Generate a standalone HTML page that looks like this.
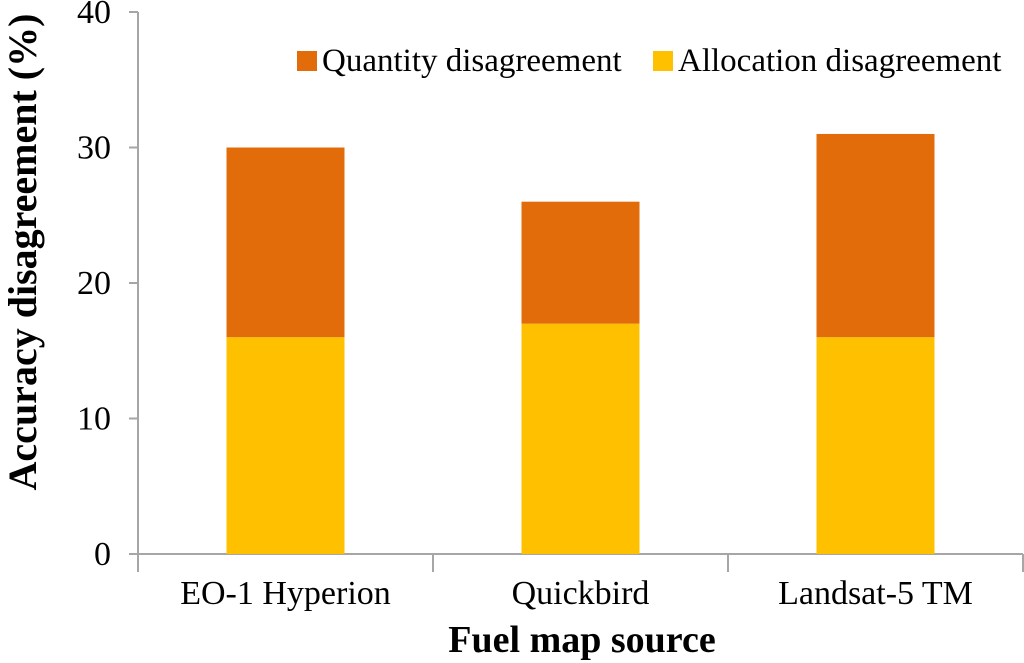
<!DOCTYPE html>
<html><head><meta charset="utf-8"><style>
html,body{margin:0;padding:0;background:#fff;width:1024px;height:663px;overflow:hidden}
svg{display:block;font-family:"Liberation Serif",serif}
</style></head><body>
<svg id="chart" width="1024" height="663">
<g id="axes"></g><g id="bars"></g>
<text transform="translate(36,252) rotate(-90)" text-anchor="middle" font-size="40" font-weight="bold" fill="#000">Accuracy disagreement (%)</text>
<text x="582" y="652" text-anchor="middle" font-size="38" font-weight="bold" fill="#000">Fuel map source</text>
<g>
<rect x="297" y="51" width="20" height="20" fill="#E36C0A"/>
<text x="322" y="71" font-size="33" fill="#000">Quantity disagreement</text>
<rect x="653" y="51" width="20" height="20" fill="#FFC000"/>
<text x="678" y="71" font-size="33" fill="#000">Allocation disagreement</text>
</g>
</svg>
<script>
const categories = ["EO-1 Hyperion", "Quickbird", "Landsat-5 TM"];
const allocation = [16, 17, 16];
const quantity = [14, 9, 15];
const yTicks = [0, 10, 20, 30, 40];

const NS = "http://www.w3.org/2000/svg";
const x0 = 138, x1 = 1023, yBase = 554, yTop = 12, yMax = 40;
const bw = (x1 - x0) / categories.length, barW = 118;
function y(v){ return yBase - (v / yMax) * (yBase - yTop); }
function xc(i){ return x0 + bw * (i + 0.5); }
function mk(tag, attrs, parent){ const e = document.createElementNS(NS, tag); for (const k in attrs) e.setAttribute(k, attrs[k]); parent.appendChild(e); return e; }
const axes = document.getElementById('axes'), bars = document.getElementById('bars');

let e = mk('line', {x1:x0, y1:yTop, x2:x0, y2:yBase, stroke:'#a6a6a6', 'stroke-width':2}, axes);


e = mk('line', {x1:x0, y1:yBase, x2:x1, y2:yBase, stroke:'#a6a6a6', 'stroke-width':2}, axes);


yTicks.forEach(t => {
  const l = mk('line', {x1:x0-9, y1:y(t), x2:x0, y2:y(t), stroke:'#a6a6a6', 'stroke-width':2}, axes);
  
  
  const tx = mk('text', {x:x0-27, y:y(t)+11, 'text-anchor':'end', 'font-size':34, fill:'#000'}, axes);
  tx.textContent = t;
  
  
});
for (let i = 0; i <= categories.length; i++) {
  const l = mk('line', {x1:x0+bw*i, y1:yBase, x2:x0+bw*i, y2:yBase+18, stroke:'#a6a6a6', 'stroke-width':2}, axes);
  
  
}
categories.forEach((c, i) => {
  const a = mk('rect', {x:xc(i)-barW/2, y:y(allocation[i]), width:barW, height:yBase-y(allocation[i]), fill:'#FFC000'}, bars);
  
  
  const tot = allocation[i] + quantity[i];
  const q = mk('rect', {x:xc(i)-barW/2, y:y(tot), width:barW, height:y(allocation[i])-y(tot), fill:'#E36C0A'}, bars);
  
  
  const tx = mk('text', {x:xc(i), y:604, 'text-anchor':'middle', 'font-size':34, fill:'#000'}, axes);
  tx.textContent = c;
  
  
});
</script>
</body></html>
